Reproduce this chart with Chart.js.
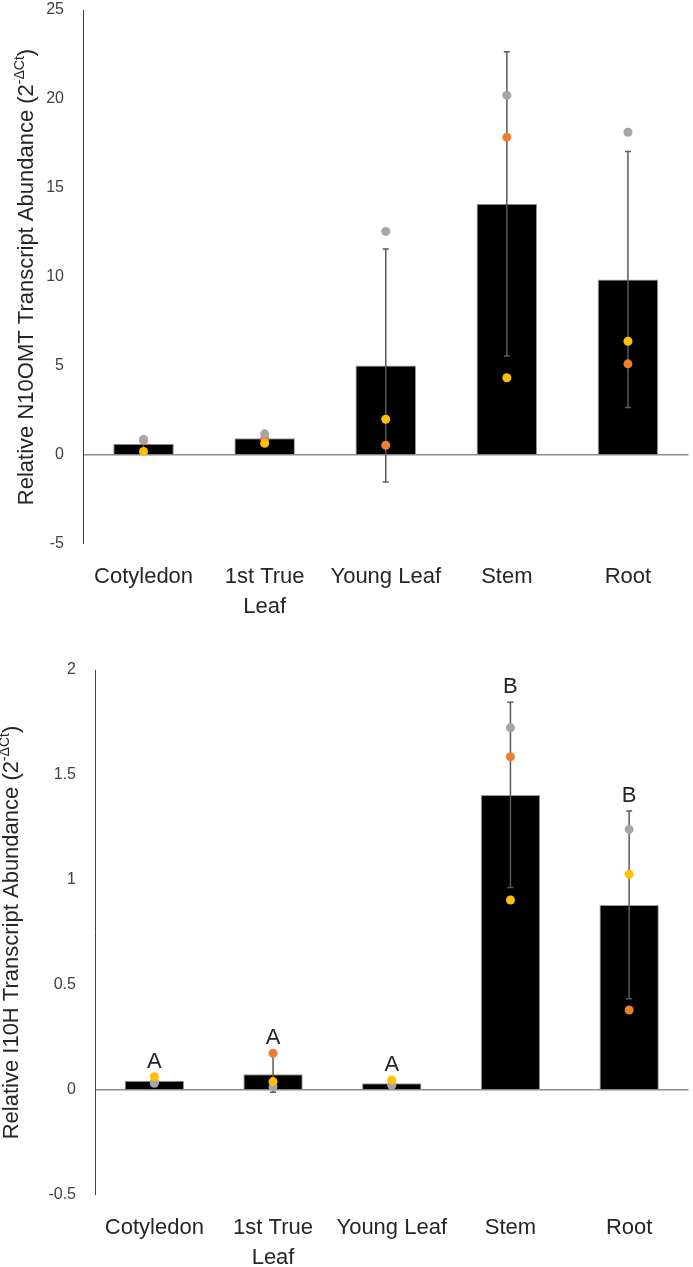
<!DOCTYPE html>
<html><head><meta charset="utf-8">
<script src="https://cdn.jsdelivr.net/npm/chart.js@4.4.0/dist/chart.umd.min.js"></script>
<style>
html,body{margin:0;padding:0;background:#fff;width:693px;height:1267px;overflow:hidden;}
#w1{position:absolute;left:0;top:0;width:693px;height:630px;}
#w2{position:absolute;left:0;top:630px;width:693px;height:637px;}
</style></head><body>
<div id="w1"><canvas id="c1"></canvas></div>
<div id="w2"><canvas id="c2"></canvas></div>
<script>
// ---- data ----
const categories = [['Cotyledon'], ['1st True', 'Leaf'], ['Young Leaf'], ['Stem'], ['Root']];

// Top panel: N10OMT
const n10Title = 'Relative N10OMT Transcript Abundance (2';
const n10Sup = '-ΔCt';
const n10Close = ')';
const n10Mean = [0.63, 0.94, 5.03, 14.11, 9.86];
const n10SD = [0.37, 0.27, 6.55, 8.55, 7.19];
const n10Orange = [0.82, 0.91, 0.55, 17.85, 5.12];
const n10Gray = [0.87, 1.19, 12.56, 20.21, 18.13];
const n10Yellow = [0.20, 0.66, 2.01, 4.34, 6.39];
const n10Axis = { min: -5, max: 25, step: 5 };

// Bottom panel: I10H
const i10Title = 'Relative I10H Transcript Abundance (2';
const i10Sup = '-ΔCt';
const i10Close = ')';
const i10Mean = [0.044, 0.075, 0.032, 1.405, 0.881];
const i10SD = [0.017, 0.086, 0.014, 0.441, 0.447];
const i10Orange = [0.037, 0.175, 0.024, 1.587, 0.381];
const i10Gray = [0.032, 0.016, 0.024, 1.725, 1.241];
const i10Yellow = [0.063, 0.040, 0.048, 0.905, 1.027];
const i10Letters = ['A', 'A', 'A', 'B', 'B'];
const i10Axis = { min: -0.5, max: 2, step: 0.5 };

// ---- styles ----
const C_ORANGE = '#ED7D31', C_GRAY = '#A5A5A5', C_YELLOW = '#FFC000';
const FONT = "'Liberation Sans', Arial, sans-serif";

const errorBarPlugin = {
  id: 'errbars',
  afterDatasetDraw(chart, args) {
    const ds = chart.data.datasets[args.index];
    if (!ds.errorSD) return;
    const ctx = chart.ctx, y = chart.scales.y;
    ctx.save();
    ctx.strokeStyle = '#595959';
    ctx.lineWidth = 1.5;
    args.meta.data.forEach((bar, i) => {
      const m = ds.data[i], s = ds.errorSD[i];
      const t = y.getPixelForValue(m + s), b = y.getPixelForValue(m - s);
      const x = bar.x;
      ctx.beginPath();
      ctx.moveTo(x, t); ctx.lineTo(x, b);
      ctx.moveTo(x - 3, t); ctx.lineTo(x + 3, t);
      ctx.moveTo(x - 3, b); ctx.lineTo(x + 3, b);
      ctx.stroke();
    });
    ctx.restore();
  }
};

const yTitlePlugin = {
  id: 'ytitle',
  afterDraw(chart, args, opts) {
    if (!opts.main) return;
    const ctx = chart.ctx;
    const cy = (chart.chartArea.top + chart.chartArea.bottom) / 2;
    ctx.save();
    ctx.translate(opts.cx, cy);
    ctx.rotate(-Math.PI / 2);
    ctx.fillStyle = '#262626';
    ctx.textBaseline = 'middle';
    ctx.textAlign = 'left';
    const big = opts.size + 'px ' + FONT, small = Math.round(opts.size * 0.62) + 'px ' + FONT;
    ctx.font = big; const w1 = ctx.measureText(opts.main).width; const w3 = ctx.measureText(opts.close).width;
    ctx.font = small; const w2 = ctx.measureText(opts.sup).width;
    let x0 = -(w1 + w2 + w3) / 2;
    ctx.font = big; ctx.fillText(opts.main, x0, 0);
    ctx.font = small; ctx.fillText(opts.sup, x0 + w1, -opts.size * 0.32);
    ctx.font = big; ctx.fillText(opts.close, x0 + w1 + w2, 0);
    ctx.restore();
  }
};

const letterPlugin = {
  id: 'letters',
  afterDatasetsDraw(chart, args, opts) {
    if (!opts.letters) return;
    const ctx = chart.ctx, y = chart.scales.y, x = chart.scales.x;
    ctx.save();
    ctx.fillStyle = '#262626';
    ctx.font = '22px ' + FONT;
    ctx.textAlign = 'center';
    ctx.textBaseline = 'alphabetic';
    opts.letters.forEach((L, i) => {
      const top = Math.max(opts.mean[i] + opts.sd[i], opts.pts[0][i], opts.pts[1][i], opts.pts[2][i]);
      ctx.fillText(L, x.getPixelForValue(i), y.getPixelForValue(top) - 9);
    });
    ctx.restore();
  }
};

function pointSet(data, color, order) {
  return {
    type: 'line', data, showLine: false, order,
    pointRadius: 4.5, pointHoverRadius: 4.5, pointBorderWidth: 0,
    pointBackgroundColor: color, borderColor: color, backgroundColor: color
  };
}

function makeChart(id, cfg) {
  return new Chart(document.getElementById(id), {
    type: 'bar',
    data: {
      labels: categories,
      datasets: [
        { type: 'bar', data: cfg.mean, errorSD: cfg.sd, order: 10,
          backgroundColor: '#000000', borderColor: '#9a9a9a', borderWidth: 1,
          categoryPercentage: 0.5, barPercentage: 1 },
        pointSet(cfg.orange, C_ORANGE, 3),
        pointSet(cfg.gray, C_GRAY, 2),
        pointSet(cfg.yellow, C_YELLOW, 1)
      ]
    },
    plugins: [errorBarPlugin, yTitlePlugin, letterPlugin],
    options: {
      responsive: true, maintainAspectRatio: false, animation: false, devicePixelRatio: 1,
      layout: { padding: { top: cfg.padTop, right: 2, left: 0, bottom: 0 } },
      plugins: {
        legend: { display: false }, tooltip: { enabled: false },
        ytitle: { main: cfg.title, sup: cfg.sup, close: cfg.close, cx: cfg.titleX, size: 22 },
        letters: cfg.letters ? { letters: cfg.letters, mean: cfg.mean, sd: cfg.sd, pts: [cfg.orange, cfg.gray, cfg.yellow] } : {}
      },
      scales: {
        x: {
          grid: { display: false, drawTicks: false },
          border: { display: false },
          ticks: { color: '#262626', padding: 18, font: { family: FONT, size: 22, lineHeight: 1.35 }, maxRotation: 0, autoSkip: false },
          afterFit(s) { s.height = cfg.xHeight; s.paddingLeft = 0; s.paddingRight = 0; }
        },
        y: {
          min: cfg.axis.min, max: cfg.axis.max,
          ticks: { stepSize: cfg.axis.step, color: '#404040', padding: 19, font: { family: FONT, size: 16 },
                   callback: v => String(Math.round(v * 100) / 100) },
          grid: {
            drawTicks: false,
            color: c => (c.tick && c.tick.value === 0) ? '#8c8c8c' : 'rgba(0,0,0,0)',
            lineWidth: c => (c.tick && c.tick.value === 0) ? 1.5 : 0
          },
          border: { display: true, color: '#404040', width: 1 },
          afterFit(s) { s.width = cfg.yWidth; s.paddingTop = 0; s.paddingBottom = 0; }
        }
      }
    }
  });
}

makeChart('c1', {
  mean: n10Mean, sd: n10SD, orange: n10Orange, gray: n10Gray, yellow: n10Yellow, axis: n10Axis,
  title: n10Title, sup: n10Sup, close: n10Close, titleX: 27,
  padTop: 10, xHeight: 86, yWidth: 83
});
makeChart('c2', {
  mean: i10Mean, sd: i10SD, orange: i10Orange, gray: i10Gray, yellow: i10Yellow, axis: i10Axis,
  title: i10Title, sup: i10Sup, close: i10Close, titleX: 12, letters: i10Letters,
  padTop: 40, xHeight: 72, yWidth: 95
});
</script>
</body></html>
